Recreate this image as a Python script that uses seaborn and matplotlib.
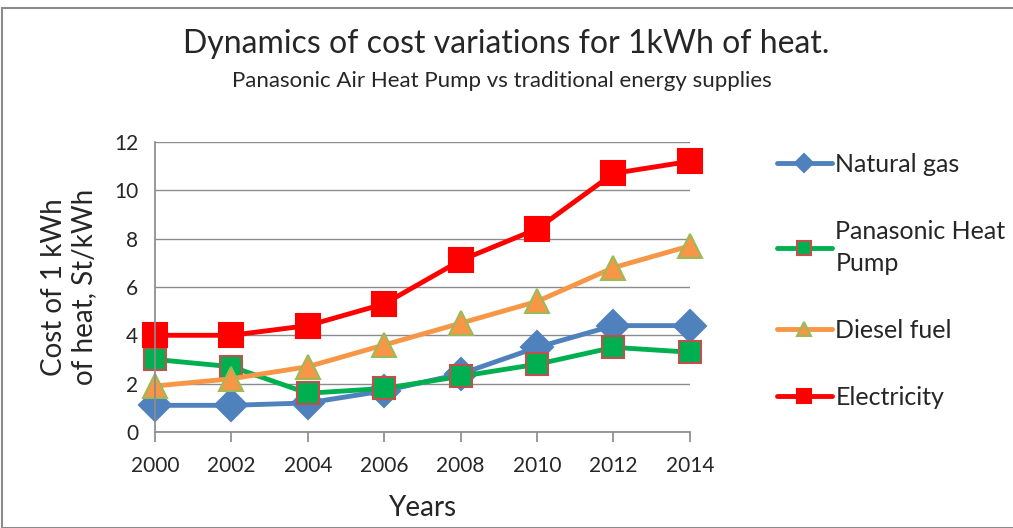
import pandas as pd
import matplotlib.pyplot as plt
import seaborn as sns
from matplotlib.patches import Rectangle

# data
years = [2000, 2002, 2004, 2006, 2008, 2010, 2012, 2014]
natural_gas = [1.1, 1.1, 1.2, 1.7, 2.4, 3.5, 4.4, 4.4]
heat_pump = [3.0, 2.7, 1.6, 1.8, 2.3, 2.8, 3.5, 3.3]
diesel = [1.9, 2.2, 2.7, 3.6, 4.5, 5.4, 6.8, 7.7]
electricity = [4.0, 4.0, 4.4, 5.3, 7.1, 8.4, 10.7, 11.2]

series_names = ["Natural gas", "Panasonic Heat\nPump", "Diesel fuel", "Electricity"]

sns.set_theme(style="white")
plt.rcParams["font.family"] = ["Lato", "DejaVu Sans"]

fig = plt.figure(figsize=(10.13, 5.28), dpi=100)
ax = fig.add_axes([0.153, 0.182, 0.528, 0.549])

# chart border
fig.patches.append(Rectangle((0.002, 0.0), 1.2, 0.985, transform=fig.transFigure,
                             fill=False, edgecolor="#8c8c8c", lw=1.5))

styles = [
    (natural_gas, "#4F81BD", "D", "#4F81BD", 16),
    (heat_pump, "#00B050", "s", "#C0504D", 16),
    (diesel, "#F79646", "^", "#9BBB59", 17),
    (electricity, "#FF0000", "s", "#FF0000", 17),
]

for (vals, col, mk, edge, ms), name in zip(styles, series_names):
    df = pd.DataFrame({"Year": years, "Cost": vals})
    sns.lineplot(data=df, x="Year", y="Cost", ax=ax, color=col, lw=3.5,
                 marker=mk, markersize=ms, markeredgecolor=edge,
                 markeredgewidth=1.5, label=name, clip_on=False)

ax.set_xlim(2000, 2014)
ax.set_ylim(0, 12)
ax.set_xticks(years)
ax.set_yticks(range(0, 13, 2))
ax.yaxis.grid(True, color="#8c8c8c", lw=1)
ax.set_axisbelow(True)
for s in ["top", "right"]:
    ax.spines[s].set_visible(False)
ax.spines["left"].set_color("#8c8c8c")
ax.spines["bottom"].set_color("#8c8c8c")
ax.tick_params(axis="x", direction="out", length=7, color="#8c8c8c",
               labelsize=15, pad=10, bottom=True)
ax.tick_params(axis="y", length=0, labelsize=15, pad=12)

ax.set_xlabel("Years", fontsize=20, labelpad=14)
ax.set_ylabel("Cost of 1 kWh\nof heat, St/kWh", fontsize=20, labelpad=12)

fig.text(0.5, 0.9, "Dynamics of cost variations for 1kWh of heat.",
         ha="center", fontsize=23)
fig.text(0.495, 0.835, "Panasonic Air Heat Pump vs traditional energy supplies",
         ha="center", fontsize=16)

leg = ax.legend(loc="upper left", bbox_to_anchor=(1.12, 1.04), frameon=False,
                fontsize=18, handlelength=2.2, handletextpad=0.15, labelspacing=1.75,
                markerscale=0.6)
for t in leg.get_texts():
    t.set_linespacing(1.5)

fig.savefig("out.png", dpi=100)
